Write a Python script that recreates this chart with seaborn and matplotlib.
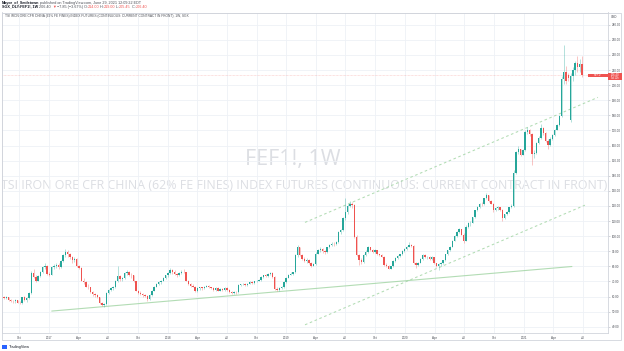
import matplotlib
matplotlib.use("Agg")
import matplotlib.pyplot as plt
import matplotlib.dates as mdates
from matplotlib.patches import Rectangle
import numpy as np
import pandas as pd
import seaborn as sns

# ---- data (weekly bars, SGX iron ore front month) ----
first_week = "2016-08-08"
opens = [58.5, 59.5, 59.0, 59.8, 57.5, 57.0, 56.8, 57.5, 56.0, 55.5,
         59.5, 57.5, 59.0, 62.5, 75.5, 73.0, 70.5, 73.5, 76.0, 79.5,
         80.5, 75.0, 74.5, 79.5, 80.5, 81.0, 79.5, 83.5, 87.5, 89.5,
         88.0, 86.0, 84.0, 85.0, 80.0, 79.0, 70.5, 69.5, 66.5, 66.0,
         63.0, 61.5, 61.0, 59.5, 55.5, 54.5, 55.0, 62.5, 64.5, 65.5,
         66.0, 70.0, 73.5, 71.5, 72.0, 75.5, 76.5, 74.5, 74.0, 70.0,
         64.0, 62.5, 62.0, 61.0, 60.5, 58.5, 61.0, 64.0, 66.5, 68.5,
         69.5, 70.5, 72.5, 74.0, 75.5, 77.5, 76.0, 75.0, 74.0, 75.5,
         76.5, 76.0, 70.5, 68.0, 67.0, 66.5, 63.5, 65.5, 66.0, 65.5,
         66.5, 67.0, 66.0, 65.5, 64.5, 65.5, 64.0, 65.0, 64.5, 65.5,
         64.5, 63.0, 62.5, 63.0, 62.8, 67.5, 68.0, 68.5, 67.5, 68.5,
         69.5, 69.0, 70.0, 70.5, 71.0, 73.0, 74.0, 73.5, 75.0, 75.5,
         73.0, 65.0, 64.5, 65.5, 66.0, 69.5, 72.5, 74.5, 75.0, 76.0,
         87.5, 92.5, 87.5, 85.0, 83.5, 84.5, 82.0, 80.5, 81.5, 88.5,
         90.5, 91.5, 90.0, 89.5, 92.5, 94.0, 95.0, 94.5, 96.0, 102.5,
         104.0, 112.0, 116.0, 120.0, 121.5, 120.5, 99.5, 87.5, 84.0, 83.0,
         87.5, 89.5, 92.5, 91.0, 89.5, 90.5, 88.0, 87.5, 86.5, 81.0,
         80.5, 78.5, 80.0, 83.5, 85.5, 87.0, 88.0, 90.0, 91.5, 93.0,
         94.0, 93.5, 82.0, 81.0, 82.5, 85.0, 87.5, 86.0, 86.5, 85.0,
         86.0, 82.0, 80.0, 81.5, 82.0, 84.0, 88.0, 90.5, 93.0, 97.0,
         100.0, 103.0, 104.5, 101.0, 97.0, 106.0, 108.5, 109.0, 112.5, 117.0,
         119.0, 121.5, 121.0, 125.0, 127.0, 123.0, 121.5, 117.5, 118.5, 119.0,
         117.5, 112.0, 114.5, 116.0, 119.0, 120.0, 142.0, 155.5, 157.5, 154.0,
         157.0, 169.0, 170.5, 167.5, 154.5, 155.0, 161.5, 165.0, 171.5, 168.0,
         163.0, 160.5, 164.5, 167.0, 170.5, 173.5, 179.5, 204.0, 209.0, 206.5,
         177.0, 206.0, 210.0, 214.5, 212.0, 214.0]
highs = [60.0, 60.5, 60.5, 60.0, 58.5, 58.0, 58.5, 58.0, 57.0, 60.0,
         60.5, 59.5, 63.0, 77.0, 78.0, 74.0, 74.5, 77.0, 80.5, 82.0,
         81.0, 76.5, 80.5, 81.5, 82.0, 82.0, 84.5, 88.5, 91.5, 90.5,
         89.0, 87.0, 86.5, 85.5, 81.0, 79.5, 72.0, 70.0, 68.0, 66.5,
         63.5, 62.5, 61.5, 60.0, 56.5, 56.0, 63.0, 65.0, 66.5, 67.0,
         71.0, 80.5, 74.5, 73.0, 76.0, 77.5, 77.0, 75.5, 74.5, 70.5,
         64.5, 63.5, 62.5, 61.5, 61.0, 61.5, 64.5, 67.0, 69.0, 70.0,
         71.0, 73.0, 74.5, 76.0, 79.0, 78.0, 77.5, 75.5, 76.0, 77.5,
         78.0, 76.5, 71.0, 69.0, 68.0, 67.0, 66.0, 66.5, 66.5, 67.0,
         67.5, 67.5, 66.5, 66.0, 66.0, 66.0, 65.5, 65.5, 66.0, 66.0,
         65.0, 63.5, 63.5, 63.5, 68.0, 68.5, 69.0, 69.0, 69.0, 70.0,
         70.0, 70.5, 71.0, 71.5, 73.5, 74.5, 75.0, 75.5, 76.5, 76.0,
         73.5, 66.0, 66.0, 67.0, 70.0, 73.0, 75.0, 76.0, 76.5, 88.5,
         94.0, 93.0, 88.5, 86.5, 85.5, 85.0, 83.0, 82.5, 89.5, 91.5,
         92.5, 92.0, 91.0, 93.0, 95.0, 96.0, 96.0, 97.0, 103.5, 105.0,
         113.0, 125.5, 121.0, 123.0, 122.5, 121.0, 100.5, 88.5, 85.5, 88.0,
         90.5, 93.5, 93.0, 91.5, 91.5, 91.0, 88.5, 88.0, 87.0, 82.0,
         81.0, 80.5, 84.0, 86.0, 87.5, 88.5, 90.5, 92.0, 93.5, 96.0,
         95.0, 94.0, 83.0, 83.0, 85.5, 88.5, 88.0, 87.0, 87.0, 87.0,
         86.5, 82.5, 82.0, 83.0, 84.5, 88.5, 91.0, 93.5, 97.5, 100.5,
         103.5, 105.5, 105.0, 102.0, 107.5, 109.5, 110.0, 113.0, 117.5, 120.0,
         122.0, 122.5, 125.5, 128.7, 127.5, 124.0, 122.0, 119.0, 120.0, 119.5,
         118.0, 115.0, 116.5, 119.5, 121.0, 143.5, 156.5, 160.0, 158.0, 158.0,
         170.0, 172.0, 171.0, 168.0, 157.0, 162.5, 166.0, 174.0, 172.5, 169.0,
         164.5, 165.5, 167.5, 171.0, 174.5, 180.5, 206.0, 226.5, 213.0, 208.0,
         208.0, 212.0, 216.0, 219.5, 217.0, 219.0]
lows = [58.0, 58.5, 58.5, 57.0, 56.5, 56.0, 56.0, 55.5, 54.8, 55.0,
        57.0, 56.5, 58.5, 62.0, 72.0, 69.5, 70.0, 73.0, 75.5, 78.5,
        74.0, 73.5, 74.0, 78.5, 79.0, 78.5, 79.0, 83.0, 86.5, 86.5,
        85.0, 82.5, 83.0, 79.5, 78.0, 70.0, 68.5, 66.0, 65.0, 62.5,
        60.5, 60.0, 59.0, 55.0, 53.5, 53.0, 54.5, 61.5, 63.5, 64.5,
        65.5, 69.5, 70.5, 70.5, 71.5, 74.5, 73.5, 72.5, 69.5, 63.5,
        61.5, 61.0, 60.0, 59.5, 57.0, 58.0, 60.5, 63.5, 66.0, 67.5,
        68.5, 70.0, 71.5, 73.0, 75.0, 75.0, 74.0, 73.0, 73.5, 75.0,
        75.5, 70.0, 67.5, 66.5, 66.0, 63.0, 63.0, 64.5, 64.5, 65.0,
        66.0, 65.5, 65.0, 64.0, 64.0, 63.5, 63.5, 64.0, 64.0, 64.0,
        62.5, 62.0, 62.0, 62.0, 62.5, 67.0, 67.5, 67.0, 67.0, 68.0,
        68.5, 68.5, 69.5, 70.0, 70.5, 72.5, 73.0, 73.0, 74.5, 72.5,
        64.5, 63.5, 64.0, 65.0, 65.5, 69.0, 72.0, 74.0, 74.5, 75.5,
        86.5, 87.0, 84.5, 83.0, 82.5, 81.5, 79.5, 80.0, 81.0, 88.0,
        89.5, 89.0, 88.5, 89.0, 92.0, 93.5, 93.5, 94.0, 95.5, 101.5,
        103.5, 111.0, 115.0, 119.0, 118.5, 99.0, 87.0, 81.0, 81.5, 82.5,
        87.0, 89.0, 90.0, 89.0, 89.0, 87.5, 87.0, 86.0, 80.5, 79.5,
        78.0, 78.0, 79.5, 83.0, 85.0, 86.5, 87.5, 89.5, 91.0, 92.5,
        92.5, 81.5, 79.0, 80.5, 82.0, 84.5, 85.5, 85.0, 84.5, 84.5,
        81.5, 79.5, 77.5, 80.5, 81.5, 83.5, 87.5, 90.0, 92.5, 96.5,
        99.5, 102.0, 100.5, 95.5, 96.5, 105.5, 107.0, 108.5, 112.0, 116.5,
        118.5, 120.0, 120.5, 124.5, 122.5, 121.0, 116.0, 116.5, 117.5, 116.5,
        110.0, 111.5, 114.0, 115.5, 118.5, 119.5, 141.0, 154.5, 153.0, 153.5,
        156.5, 167.5, 166.5, 147.0, 152.0, 154.5, 161.0, 164.5, 167.0, 162.5,
        158.0, 160.0, 163.5, 166.5, 170.0, 173.0, 179.0, 201.0, 200.5, 203.0,
        175.5, 203.0, 207.0, 209.0, 209.0, 205.45]
closes = [59.5, 59.0, 59.8, 57.5, 57.0, 56.8, 57.5, 56.0, 55.5, 59.5,
          57.5, 59.0, 62.5, 75.5, 73.0, 70.5, 73.5, 76.0, 79.5, 80.5,
          75.0, 74.5, 79.5, 80.5, 81.0, 79.5, 83.5, 87.5, 89.5, 88.0,
          86.0, 84.0, 85.0, 80.0, 79.0, 70.5, 69.5, 66.5, 66.0, 63.0,
          61.5, 61.0, 59.5, 55.5, 54.5, 55.0, 62.5, 64.5, 65.5, 66.0,
          70.0, 73.5, 71.5, 72.0, 75.5, 76.5, 74.5, 74.0, 70.0, 64.0,
          62.5, 62.0, 61.0, 60.5, 58.5, 61.0, 64.0, 66.5, 68.5, 69.5,
          70.5, 72.5, 74.0, 75.5, 77.5, 76.0, 75.0, 74.0, 75.5, 76.5,
          76.0, 70.5, 68.0, 67.0, 66.5, 63.5, 65.5, 66.0, 65.5, 66.5,
          67.0, 66.0, 65.5, 64.5, 65.5, 64.0, 65.0, 64.5, 65.5, 64.5,
          63.0, 62.5, 63.0, 62.8, 67.5, 68.0, 68.5, 67.5, 68.5, 69.5,
          69.0, 70.0, 70.5, 71.0, 73.0, 74.0, 73.5, 75.0, 75.5, 73.0,
          65.0, 64.5, 65.5, 66.0, 69.5, 72.5, 74.5, 75.0, 76.0, 87.5,
          92.5, 87.5, 85.0, 83.5, 84.5, 82.0, 80.5, 81.5, 88.5, 90.5,
          91.5, 90.0, 89.5, 92.5, 94.0, 95.0, 94.5, 96.0, 102.5, 104.0,
          112.0, 116.0, 120.0, 121.5, 120.5, 99.5, 87.5, 84.0, 83.0, 87.5,
          89.5, 92.5, 91.0, 89.5, 90.5, 88.0, 87.5, 86.5, 81.0, 80.5,
          78.5, 80.0, 83.5, 85.5, 87.0, 88.0, 90.0, 91.5, 93.0, 94.0,
          93.5, 82.0, 81.0, 82.5, 85.0, 87.5, 86.0, 86.5, 85.0, 86.0,
          82.0, 80.0, 81.5, 82.0, 84.0, 88.0, 90.5, 93.0, 97.0, 100.0,
          103.0, 104.5, 101.0, 97.0, 106.0, 108.5, 109.0, 112.5, 117.0, 119.0,
          121.5, 121.0, 125.0, 127.0, 123.0, 121.5, 117.5, 118.5, 119.0, 117.5,
          112.0, 114.5, 116.0, 119.0, 120.0, 142.0, 155.5, 157.5, 154.0, 157.0,
          169.0, 170.5, 167.5, 154.5, 155.0, 161.5, 165.0, 171.5, 168.0, 163.0,
          160.5, 164.5, 167.0, 170.5, 173.5, 179.5, 204.0, 209.0, 203.0, 204.5,
          206.0, 210.0, 214.5, 212.0, 214.25, 206.40]

price_ticks = [40, 50, 60, 70, 80, 90, 100, 110, 120, 130, 140,
               150, 160, 170, 180, 190, 200, 210, 220, 230, 240]
month_ticks = ["2016-10-01", "2017-01-01", "2017-04-01", "2017-07-01", "2017-10-01",
               "2018-01-01", "2018-04-01", "2018-07-01", "2018-10-01",
               "2019-01-01", "2019-04-01", "2019-07-01", "2019-10-01",
               "2020-01-01", "2020-04-01", "2020-07-01", "2020-10-01",
               "2021-01-01", "2021-04-01", "2021-07-01"]
month_labels = ["Oct", "2017", "Apr", "Jul", "Oct", "2018", "Apr", "Jul", "Oct",
                "2019", "Apr", "Jul", "Oct", "2020", "Apr", "Jul", "Oct",
                "2021", "Apr", "Jul"]

# hand drawn lines on the chart
trend_dates = ["2017-01-09", "2021-05-28"]
trend_prices = [50.4, 79.9]
chan_low_dates = ["2019-02-27", "2021-07-07"]
chan_low_prices = [41.3, 120.5]
chan_up_dates = ["2019-02-27", "2021-08-16"]
chan_up_prices = [109.1, 191.9]

last_price = 206.40

UP = "#26a69a"
DOWN = "#ef5350"
LINE_GREEN = "#a5d6a7"
GRID = "#eef1f6"
FRAME = "#d1d4dc"
TXT = "#4a4d55"

sns.set_theme(style="white")
plt.rcParams["font.family"] = ["Liberation Sans", "DejaVu Sans"]

W, H = 624, 351
fig = plt.figure(figsize=(W / 100, H / 100), dpi=100)
fig.patch.set_facecolor("white")
renderer = fig.canvas.get_renderer()


def fx(px):
    return px / W


def fy(py):
    return 1 - py / H


def text_width(s, size, **kw):
    t = fig.text(0, 0, s + "x", fontsize=size, **kw)
    w1 = t.get_window_extent(renderer).width
    t.set_text("x")
    w2 = t.get_window_extent(renderer).width
    t.remove()
    return w1 - w2


def fit_size(s, width_px, **kw):
    return 10 * width_px / text_width(s, 10, **kw)


def chain(x, y, parts, size):
    for s, col, wt in parts:
        fig.text(fx(x), fy(y), s, color=col, fontsize=size, fontweight=wt, va="baseline")
        x += text_width(s, size, fontweight=wt)


# main pane
L, R, T, B = 2, 608, 12.5, 332.5
ax = fig.add_axes([fx(L), fy(B), fx(R - L), (B - T) / H])
ax.set_facecolor("white")

df = pd.DataFrame({
    "date": pd.date_range(first_week, periods=len(closes), freq="7D"),
    "open": opens, "high": highs, "low": lows, "close": closes,
})
df["x"] = mdates.date2num(df["date"])
df["rising"] = df["close"] >= df["open"]
df["body_lo"] = df[["open", "close"]].min(axis=1)
df["body_h"] = (df["close"] - df["open"]).abs().clip(lower=0.35)

ax.set_xlim(mdates.date2num(pd.Timestamp("2016-08-09")), mdates.date2num(pd.Timestamp("2021-09-16")))
ax.set_ylim(36.2, 248.1)

# grid
tick_x = mdates.date2num(pd.to_datetime(month_ticks))
ax.set_xticks(tick_x)
ax.set_yticks(price_ticks)
ax.grid(True, color=GRID, linewidth=0.6)
ax.set_axisbelow(True)

# watermark (cut by the pane edges, as in the original)
ax.text(0.48, 0.54, "FEF1!, 1W", transform=ax.transAxes, ha="center", va="center",
        fontsize=fit_size("FEF1!, 1W", 96, family="Open Sans"), family="Open Sans",
        color="#dcdee3", zorder=0)
wm = "TSI IRON ORE CFR CHINA (62% FE FINES) INDEX FUTURES (CONTINUOUS: CURRENT CONTRACT IN FRONT)"
ax.text(0.498, 0.458, wm, transform=ax.transAxes, ha="center", va="center",
        fontsize=fit_size(wm, 606, family="Open Sans"), family="Open Sans",
        color="#dcdee3", zorder=0, clip_on=True)

# drawn lines
sns.lineplot(x=mdates.date2num(pd.to_datetime(trend_dates)), y=trend_prices, ax=ax,
             color=LINE_GREEN, linewidth=0.8, alpha=0.85, zorder=1)
sns.lineplot(x=mdates.date2num(pd.to_datetime(chan_low_dates)), y=chan_low_prices, ax=ax,
             color=LINE_GREEN, linewidth=0.75, alpha=0.85, linestyle=(0, (2.5, 2.5)), zorder=1)
sns.lineplot(x=mdates.date2num(pd.to_datetime(chan_up_dates)), y=chan_up_prices, ax=ax,
             color=LINE_GREEN, linewidth=0.75, alpha=0.85, linestyle=(0, (2.5, 2.5)), zorder=1)

# candles
cols = np.where(df["rising"], UP, DOWN)
ax.vlines(df["x"], df["low"], df["high"], colors=cols, linewidth=0.6, alpha=0.4, zorder=2)
ax.bar(df["x"], df["body_h"], bottom=df["body_lo"], width=4.3, color=cols,
       linewidth=0, zorder=3)

# last price line
ax.axhline(last_price, color=DOWN, linewidth=0.5, alpha=0.35, linestyle=(0, (1, 1)), zorder=1)

# axes cosmetics
ax.yaxis.tick_right()
for sp in ax.spines.values():
    sp.set_color(FRAME)
    sp.set_linewidth(0.6)
lab_size = fit_size("2017", 6.7)
ax.set_xticklabels(month_labels)
ax.set_yticklabels([f"{v:.2f}" for v in price_ticks])
ax.tick_params(axis="x", length=1.5, width=0.4, color="#b2b5be", pad=1.2,
               labelsize=lab_size, labelcolor=TXT)
ax.tick_params(axis="y", length=1.5, width=0.4, color="#b2b5be", pad=1.2,
               labelsize=lab_size, labelcolor=TXT)

# outer frame
fig.add_artist(Rectangle((fx(L), fy(340)), fx(621 - L), (340 - T) / H, fill=False,
                         edgecolor=FRAME, linewidth=0.6, transform=fig.transFigure))

# USD label on the price scale
fig.text(fx(611), fy(17), "USD", fontsize=lab_size, color=TXT, va="center")

# last price labels on the scale
fig.canvas.draw()
py = H - ax.transData.transform((ax.get_xlim()[0], last_price))[1]
fig.add_artist(Rectangle((fx(588), fy(py + 1.7)), fx(19.5), 3.4 / H, facecolor=DOWN,
                         edgecolor="none", transform=fig.transFigure))
fig.text(fx(597.7), fy(py), "FEF1!", fontsize=lab_size * 0.9, color="white",
         ha="center", va="center")
fig.add_artist(Rectangle((fx(608), fy(py + 4.8)), fx(14), 7.4 / H, facecolor=DOWN,
                         edgecolor="none", transform=fig.transFigure))
fig.text(fx(615), fy(py - 0.8), f"{last_price:.2f}", fontsize=lab_size * 0.9, color="white",
         ha="center", va="center")
fig.text(fx(615), fy(py + 2.8), "5d 11h", fontsize=lab_size * 0.85, color="white",
         ha="center", va="center")

# header
head_size = fit_size("Mayor_of_Smiletown published on TradingView.com, June 29, 2021 12:09:22 EDT", 135)
chain(2, 4.2, [("Mayor_of_Smiletown", "#131722", "bold"),
               (" published on TradingView.com, June 29, 2021 12:09:22 EDT", TXT, "normal")],
      head_size)
chain(2, 7.6, [("SGX_DLY:FEF1!, 1W ", "#131722", "bold"), ("206.40 ", TXT, "normal"),
               ("\u25bc", DOWN, "normal"), (" \u22127.85 (\u22123.67%) O:", TXT, "normal"),
               ("214.00", DOWN, "normal"), (" H:", TXT, "normal"), ("219.00", DOWN, "normal"),
               (" L:", TXT, "normal"), ("205.45", DOWN, "normal"), (" C:", TXT, "normal"),
               ("206.40", DOWN, "normal")], head_size)
title = "TSI IRON ORE CFR CHINA (62% FE FINES) INDEX FUTURES (CONTINUOUS: CURRENT CONTRACT IN FRONT), 1W, SGX"
fig.text(fx(5), fy(17.5), title, fontsize=fit_size(title, 188), color=TXT, va="baseline")

# TradingView logo
fig.add_artist(Rectangle((fx(2), fy(348.5)), fx(5), 3.5 / H, facecolor="#2962ff",
                         edgecolor="none", transform=fig.transFigure))
fig.text(fx(8.5), fy(348.3), "TradingView", fontsize=fit_size("TradingView", 21),
         color="#131722", va="baseline")

fig.savefig("out.png", dpi=100, facecolor="white")
